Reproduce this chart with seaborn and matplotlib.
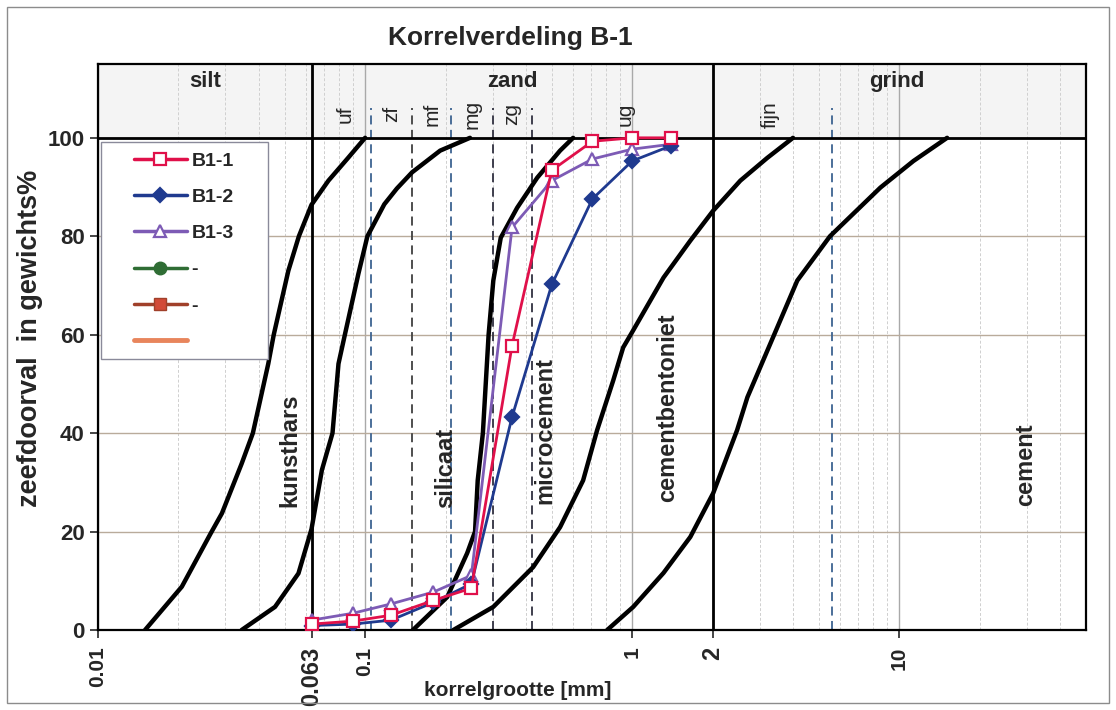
import numpy as np
import pandas as pd
import matplotlib
matplotlib.use("Agg")
import matplotlib.pyplot as plt
import seaborn as sns
from matplotlib.lines import Line2D
from matplotlib.patches import Rectangle
from matplotlib.ticker import LogLocator, NullFormatter

# ── data ────────────────────────────────────────────────────────
sieve = [0.063, 0.09, 0.125, 0.18, 0.25, 0.355, 0.5, 0.71, 1.0, 1.4]
b1_1 = [1.2, 1.8, 3.0, 6.0, 8.5, 57.8, 93.4, 99.3, 100, 100]
b1_2 = [0.9, 1.2, 2.0, 5.6, 9.4, 43.3, 70.2, 87.6, 95.3, 98.4]
b1_3 = [2.0, 3.4, 5.3, 7.7, 11.1, 81.8, 91.3, 95.7, 97.7, 98.7]

# reference envelopes (injection media)
kunsthars_x = [0.0150, 0.0206, 0.0264, 0.0291, 0.0345, 0.0380, 0.0434, 0.0455, 0.0516, 0.0565, 0.063, 0.0729, 0.0866, 0.1]
kunsthars_y = [0, 8.8, 19.6, 23.7, 33.8, 40.0, 54.1, 60.0, 73.0, 80.0, 86.4, 91.3, 96.0, 100]
silicaat_x = [0.0345, 0.046, 0.0563, 0.063, 0.0689, 0.0755, 0.0795, 0.084, 0.0944, 0.102, 0.118, 0.1315, 0.15, 0.191, 0.247]
silicaat_y = [0, 4.7, 11.5, 20.5, 32.5, 40.0, 54.1, 60.0, 72.4, 80.0, 86.5, 89.7, 93.0, 97.4, 100]
microcement_x = [0.151, 0.203, 0.241, 0.258, 0.264, 0.276, 0.29, 0.302, 0.322, 0.371, 0.441, 0.537, 0.601]
microcement_y = [0, 6.7, 15.6, 20.0, 30.4, 40.0, 60.0, 71.0, 79.7, 85.8, 91.9, 97.4, 100]
cementbent_x = [0.214, 0.302, 0.426, 0.537, 0.655, 0.739, 0.849, 0.925, 1.009, 1.31, 1.65, 2.01, 2.54, 3.2, 4.0]
cementbent_y = [0, 4.7, 12.8, 20.9, 30.4, 40.6, 50.7, 57.4, 60.9, 71.6, 79.1, 85.2, 91.3, 95.9, 100]
cement_x = [0.806, 1.009, 1.31, 1.65, 2.01, 2.47, 2.7, 3.4, 4.15, 5.5, 8.5, 11.3, 15.1]
cement_y = [0, 4.7, 11.6, 18.9, 27.8, 40.6, 47.3, 60.0, 71.0, 80.0, 89.9, 95.3, 100]

ref_names = ["kunsthars", "silicaat", "microcement", "cementbentoniet", "cement"]
ref_label_x = [0.0524, 0.1995, 0.472, 1.36, 29.6]
ref_label_y = [36.5, 33.0, 40.6, 45.2, 33.5]

# soil classes (NEN 5104)
main_bounds = [0.063, 2]
main_names = ["silt", "zand", "grind"]
main_label_x = [0.0252, 0.355, 9.8]
sub_bounds = [0.105, 0.15, 0.21, 0.3, 0.42, 5.6]
sub_colors = ["#3d6391", "#404040", "#3d6391", "#303040", "#303040", "#3d6391"]
sub_names = ["uf", "zf", "mf", "mg", "zg", "ug", "fijn"]
sub_label_x = [0.0841, 0.126, 0.178, 0.252, 0.355, 0.94, 3.29]

xticks = [0.01, 0.063, 0.1, 1, 2, 10]
xtick_labels = ["0.01", "0.063", "0.1", "1", "2", "10"]
xtick_big = [False, True, False, False, True, False]

# ── style ───────────────────────────────────────────────────────
sns.set_style("white")
plt.rcParams["font.family"] = ["Liberation Sans", "DejaVu Sans"]

W, H = 1116, 710
fig = plt.figure(figsize=(W / 100, H / 100), dpi=100)
ax = fig.add_axes([98 / W, 80 / H, 988 / W, 566 / H])
ax.set_xscale("log")
ax.set_xlim(0.01, 50)
ax.set_ylim(0, 115)

# header band
ax.axhspan(100, 115, color="#f4f4f4", zorder=0)

# grid
ax.xaxis.set_minor_locator(LogLocator(base=10, subs=np.arange(2, 10)))
ax.xaxis.set_minor_formatter(NullFormatter())
ax.grid(which="minor", axis="x", color="#cfcfcf", lw=0.7, ls=(0, (3, 2)), zorder=1)
ax.grid(which="major", axis="x", color="#a9a9a9", lw=1.0, zorder=1)
ax.grid(which="major", axis="y", color="#b9ab9b", lw=1.0, zorder=1)

# class boundaries
for b in main_bounds:
    ax.axvline(b, color="black", lw=2.0, zorder=3)
ax.axhline(100, color="black", lw=2.0, zorder=3)
for b, c in zip(sub_bounds, sub_colors):
    ax.plot([b, b], [0, 106], color=c, lw=1.3, ls=(0, (5, 3)), zorder=2)

for name, x in zip(main_names, main_label_x):
    ax.text(x, 111.4, name, ha="center", va="center", fontsize=16, fontweight="bold")
for name, x in zip(sub_names, sub_label_x):
    ax.text(x, 104.8, name, ha="center", va="center", rotation=90, fontsize=15)

# reference curves
refs = [(kunsthars_x, kunsthars_y), (silicaat_x, silicaat_y), (microcement_x, microcement_y),
        (cementbent_x, cementbent_y), (cement_x, cement_y)]
for (rx, ry) in refs:
    sns.lineplot(x=rx, y=ry, sort=False, estimator=None, color="black", lw=3.2, ax=ax, zorder=4,
                 solid_joinstyle="round")
for name, x, y in zip(ref_names, ref_label_x, ref_label_y):
    ax.text(x, y, name, ha="center", va="center", rotation=90, fontsize=17, fontweight="bold", zorder=6)

# samples
samples = pd.DataFrame({
    "d": sieve * 3,
    "pct": b1_1 + b1_2 + b1_3,
    "monster": ["B1-1"] * len(sieve) + ["B1-2"] * len(sieve) + ["B1-3"] * len(sieve),
})
styles = {
    "B1-1": dict(color="#e0104a", marker="s", mfc="white", ms=8),
    "B1-2": dict(color="#1f3a8f", marker="D", mfc="#1f3a8f", ms=7),
    "B1-3": dict(color="#7d5bb5", marker="^", mfc="white", ms=9),
}
for name in ["B1-3", "B1-2", "B1-1"]:
    st = styles[name]
    sub = samples[samples["monster"] == name]
    sns.lineplot(data=sub, x="d", y="pct", sort=False, estimator=None, color=st["color"], lw=2.0,
                 marker=st["marker"], markersize=st["ms"], markerfacecolor=st["mfc"],
                 markeredgecolor=st["color"], markeredgewidth=1.6, ax=ax, zorder=5)

handles = []
for name in ["B1-1", "B1-2", "B1-3"]:
    st = styles[name]
    handles.append(Line2D([], [], color=st["color"], lw=2.5, marker=st["marker"], ms=st["ms"],
                          mfc=st["mfc"], mec=st["color"], mew=1.6, label=name))
handles.append(Line2D([], [], color="#2f6d34", lw=2.5, marker="o", ms=9, mfc="#2f6d34", label="-"))
handles.append(Line2D([], [], color="#a0402a", lw=2.5, marker="s", ms=9, mfc="#d24a38", mec="#a0402a", label="-"))
handles.append(Line2D([], [], color="#e8855c", lw=3.5, label=" "))


def px_to_axes(px, py):
    return (px - 98) / 988, (630 - py) / 566


# legend frame drawn separately so the handles can sit inset like the original
x0, y0 = px_to_axes(101, 359)
x1, y1 = px_to_axes(268, 142)
ax.add_patch(Rectangle((x0, y0), x1 - x0, y1 - y0, transform=ax.transAxes, facecolor="white",
                       edgecolor="#8a8a9a", lw=1.0, zorder=7))
lx, ly = px_to_axes(134, 152)
leg = ax.legend(handles=handles, loc="upper left", bbox_to_anchor=(lx, ly), fontsize=14,
                handlelength=2.7, labelspacing=0.96, borderpad=0, handletextpad=0.25,
                frameon=False, borderaxespad=0)
leg.set_zorder(8)
for t in leg.get_texts():
    t.set_fontweight("bold")

# axes
for s in ax.spines.values():
    s.set_color("black")
    s.set_linewidth(1.6)
ax.set_xticks(xticks)
ax.set_xticklabels(xtick_labels, rotation=90)
for lbl, big in zip(ax.get_xticklabels(), xtick_big):
    lbl.set_fontweight("bold")
    lbl.set_fontsize(17 if big else 15)
ax.set_yticks([0, 20, 40, 60, 80, 100])
ax.set_yticklabels(["0", "20", "40", "60", "80", "100"], fontsize=16, fontweight="bold")
ax.tick_params(axis="both", which="major", direction="out", length=6, width=1.2, bottom=True, left=True)
ax.tick_params(axis="x", which="major", pad=6)
ax.tick_params(axis="x", which="minor", length=0)
ax.set_xlabel("")
ax.set_ylabel("")

fig.text(510 / W, 1 - 38 / H, "Korrelverdeling B-1", ha="center", va="center",
         fontsize=19, fontweight="bold")
fig.text(30 / W, 1 - 338 / H, "zeefdoorval  in gewichts%", ha="center", va="center",
         rotation=90, fontsize=19.5, fontweight="bold")
fig.text(518 / W, 1 - 690 / H, "korrelgrootte [mm]", ha="center", va="center",
         fontsize=15, fontweight="bold")

fig.patches.append(Rectangle((7 / W, 7 / H), 1102 / W, 696 / H, transform=fig.transFigure,
                             fill=False, ec="#8c8c8c", lw=1.0))

fig.savefig("out.png", dpi=100)
